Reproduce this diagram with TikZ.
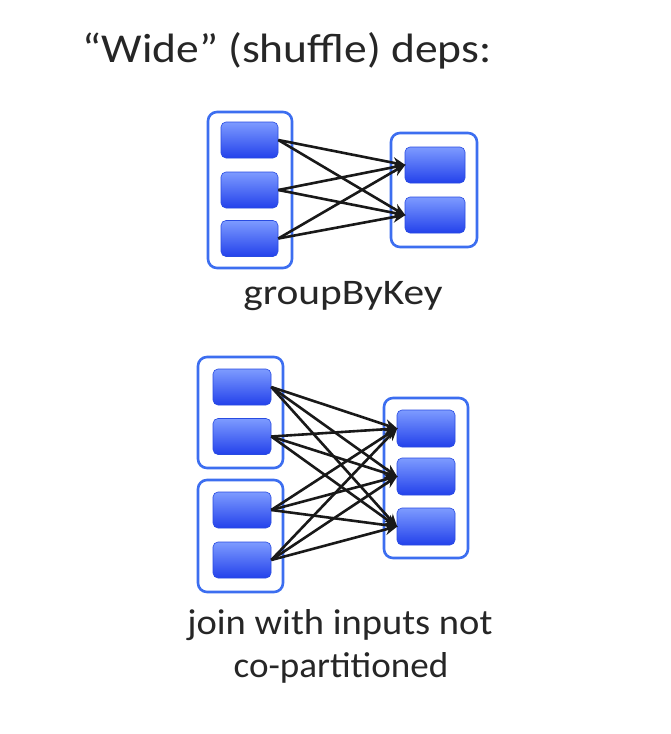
\documentclass[tikz,border=0pt]{standalone}
\usepackage{fontspec}
\setmainfont{Carlito}
\usetikzlibrary{arrows.meta}
\definecolor{contblue}{RGB}{60,110,240}
\definecolor{blktop}{RGB}{125,155,255}
\definecolor{blkbot}{RGB}{35,65,235}
\definecolor{blkedge}{RGB}{40,75,225}
\tikzset{
  container/.style={draw=contblue, line width=2.6pt, rounded corners=9pt, fill=white},
  block/.style={rounded corners=5pt, top color=blktop, bottom color=blkbot, draw=blkedge, line width=0.6pt, minimum width=57pt, minimum height=36pt, inner sep=0pt},
  dep/.style={line width=2.6pt, black!90, -{Stealth[length=13pt,width=11pt]}, shorten >=-1pt},
  lbl/.style={font=\fontsize{36}{42}\selectfont, text=black!85, inner sep=0pt}
}
\begin{document}
\begin{tikzpicture}[x=1pt,y=-1pt]
\useasboundingbox[fill=white] (0,0) rectangle (670,734);
\node[lbl, font=\fontsize{41}{46}\selectfont, anchor=base, xscale=1.11] (title) at (287,62) {“Wide” (shuffle) deps:};
% top diagram
\node[container, minimum width=84pt, minimum height=156pt] (L) at (250,190) {};
\node[block] (a1) at (249.5,140) {};
\node[block] (a2) at (249.5,190) {};
\node[block] (a3) at (249.5,238.5) {};
\node[container, minimum width=86pt, minimum height=114pt] (R) at (434,190) {};
\node[block, minimum width=60pt] (b1) at (435,165) {};
\node[block, minimum width=60pt] (b2) at (435,215) {};
\foreach \s in {a1,a2,a3}{
  \foreach \t in {b1,b2}{
    \draw[dep] (\s.east) -- (\t.west);
  }
}
\node[lbl, anchor=base, xscale=1.15] (gbk) at (343,304) {groupByKey};
% bottom diagram
\node[container, minimum width=85pt, minimum height=111pt] (C1) at (240.5,412.5) {};
\node[block, minimum width=58pt] (c1) at (242,387) {};
\node[block, minimum width=58pt] (c2) at (242,436.5) {};
\node[container, minimum width=85pt, minimum height=112pt] (C2) at (240.5,536) {};
\node[block, minimum width=58pt] (c3) at (242,510) {};
\node[block, minimum width=58pt] (c4) at (242,560) {};
\node[container, minimum width=84pt, minimum height=160pt] (D) at (426,478) {};
\node[block, minimum width=58pt, minimum height=37pt] (d1) at (426,428.5) {};
\node[block, minimum width=58pt, minimum height=37pt] (d2) at (426,476.5) {};
\node[block, minimum width=58pt, minimum height=37pt] (d3) at (426,526.5) {};
\foreach \s in {c1,c2,c3,c4}{
  \foreach \t in {d1,d2,d3}{
    \draw[dep] (\s.east) -- (\t.west);
  }
}
\node[lbl, anchor=base, xscale=1.07] (j1) at (340,634) {join with inputs not};
\node[lbl, anchor=base, xscale=1.03] (j2) at (341,677) {co-partitioned};
\end{tikzpicture}
\end{document}
